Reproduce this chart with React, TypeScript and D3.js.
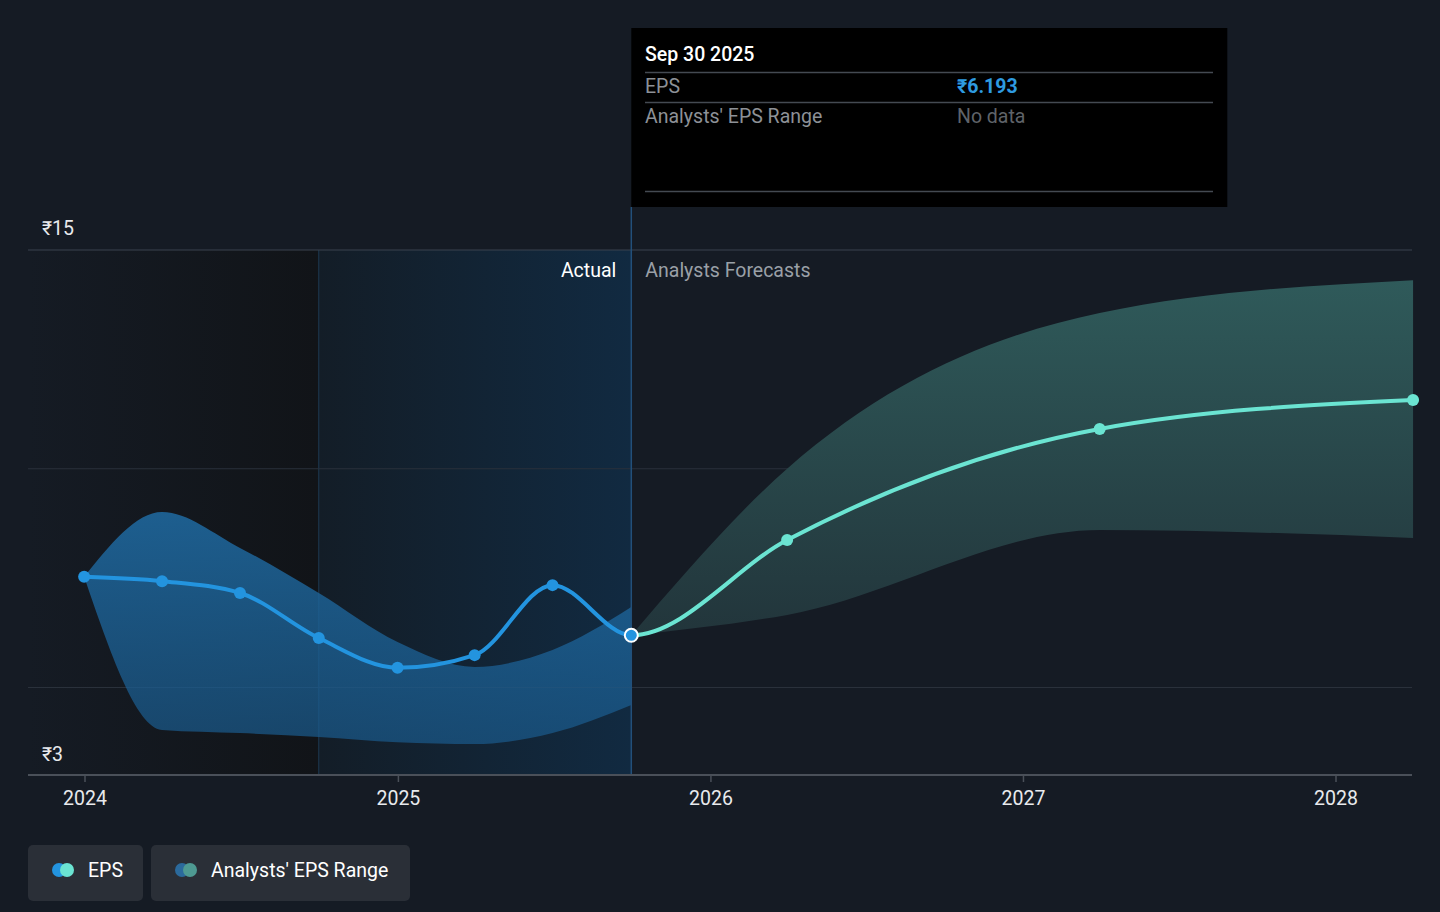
import { useMemo } from "react";
import * as d3 from "d3";

// EPS history (actual) and analysts forecast
const actualDates = ["2023-12-31", "2024-03-31", "2024-06-30", "2024-09-30", "2024-12-31", "2025-03-31", "2025-06-30", "2025-09-30"];
const actualEps = [7.53, 7.43, 7.16, 6.13, 5.45, 5.74, 7.34, 6.193];
const actualRangeLow = [7.53, 4.03, 3.96, 3.87, 3.75, 3.71, 3.96, 4.6];
const actualRangeHigh = [7.53, 9.01, 8.19, 7.16, 6.04, 5.47, 5.86, 6.84];

const forecastDates = ["2025-09-30", "2026-03-31", "2027-03-31", "2028-03-31"];
const forecastEps = [6.193, 8.37, 10.91, 11.57];
const forecastLow = [6.193, 6.66, 8.6, 8.42];
const forecastHigh = [6.193, 10.0, 13.56, 14.31];

const yTicks = [15, 10, 5];
const yLabels = ["₹15", "₹3"];
const xTickYears = [2024, 2025, 2026, 2027, 2028];

const FONT = "Roboto, 'Noto Sans', sans-serif";
const FS = 19.5;
const BG = "#151b24";
const BLUE = "#2394df";
const TEAL = "#6be4d2";

type Pt = { date: Date; v: number; lo: number; hi: number };

export default function App() {
  const parse = d3.timeParse("%Y-%m-%d");

  const x = d3.scaleTime()
    .domain([new Date(2024, 0, 1), new Date(2028, 0, 1)])
    .range([85, 1336]);
  const y = d3.scaleLinear().domain([3, 15]).range([775, 250]);

  const actual: Pt[] = actualDates.map((d, i) => ({ date: parse(d)!, v: actualEps[i], lo: actualRangeLow[i], hi: actualRangeHigh[i] }));
  const forecast: Pt[] = forecastDates.map((d, i) => ({ date: parse(d)!, v: forecastEps[i], lo: forecastLow[i], hi: forecastHigh[i] }));
  // one continuous EPS series, coloured differently either side of "now"
  const allEps = [...actual, ...forecast.slice(1)];

  const paths = useMemo(() => {
    const line = d3.line<Pt>()
      .x(d => x(d.date))
      .y(d => y(d.v))
      .curve(d3.curveMonotoneX);
    const area = d3.area<Pt>()
      .x(d => x(d.date))
      .y0(d => y(d.lo))
      .y1(d => y(d.hi))
      .curve(d3.curveMonotoneX);
    return {
      epsLine: line(allEps) ?? "",
      actualArea: area(actual) ?? "",
      forecastArea: area(forecast) ?? "",
    };
  }, []);

  const nowX = x(parse("2025-09-30")!);
  const pastX = x(parse("2024-09-30")!);
  const left = 28;
  const right = 1412;

  return (
    <div style={{ position: "fixed", inset: 0, background: BG }}>
      <svg width={1440} height={912} style={{ display: "block", fontFamily: FONT }}>
        <defs>
          <linearGradient id="darkZone" x1="0" x2="1" y1="0" y2="0">
            <stop offset="0%" stopColor={BG} />
            <stop offset="100%" stopColor="#111418" />
          </linearGradient>
          <linearGradient id="blueZone" x1="0" x2="1" y1="0" y2="0">
            <stop offset="0%" stopColor="#131d27" />
            <stop offset="100%" stopColor="#112a41" />
          </linearGradient>
          <linearGradient id="blueBand" x1="0" x2="0" y1="0" y2="1">
            <stop offset="0%" stopColor="#1f6ba3" stopOpacity={0.85} />
            <stop offset="100%" stopColor="#1a5a8c" stopOpacity={0.7} />
          </linearGradient>
          <linearGradient id="tealBand" x1="0" x2="0" y1="0" y2="1">
            <stop offset="0%" stopColor="#2f5a5a" />
            <stop offset="100%" stopColor="#22353b" />
          </linearGradient>
          <clipPath id="pastClip">
            <rect x={0} y={0} width={nowX} height={912} />
          </clipPath>
          <clipPath id="futureClip">
            <rect x={nowX} y={0} width={1440 - nowX} height={912} />
          </clipPath>
        </defs>

        {/* past zones */}
        <rect x={left} y={250} width={pastX - left} height={525} fill="url(#darkZone)" />
        <rect x={pastX} y={250} width={nowX - pastX} height={525} fill="url(#blueZone)" />
        <line x1={pastX} x2={pastX} y1={250} y2={775} stroke="#1d3850" strokeWidth={1} />

        {/* gridlines */}
        {yTicks.map((t, i) => (
          <line key={t} x1={left} x2={right} y1={y(t)} y2={y(t)}
            stroke={i === 0 ? "#3b434e" : "#2a313b"} strokeWidth={1} />
        ))}

        {/* range bands */}
        <path d={paths.actualArea} fill="url(#blueBand)" />
        <path d={paths.forecastArea} fill="url(#tealBand)" />

        {/* now divider */}
        <line x1={nowX} x2={nowX} y1={207} y2={775} stroke="#22507a" strokeWidth={1.5} />

        {/* axis */}
        <line x1={left} x2={right} y1={775} y2={775} stroke="#4a5059" strokeWidth={2} />
        {xTickYears.map(yr => {
          const tx = x(new Date(yr, 0, 1));
          return (
            <g key={yr}>
              <line x1={tx} x2={tx} y1={775} y2={782} stroke="#4a5059" strokeWidth={1.5} />
              <text x={tx} y={800} fill="#e8eaed" fontSize={FS} textAnchor="middle" dominantBaseline="middle">{yr}</text>
            </g>
          );
        })}
        <text x={42} y={230} fill="#e8eaed" fontSize={FS} dominantBaseline="middle">{yLabels[0]}</text>
        <text x={42} y={756} fill="#e8eaed" fontSize={FS} dominantBaseline="middle">{yLabels[1]}</text>

        <text x={nowX - 15} y={272} fill="#ffffff" fontSize={FS} textAnchor="end" dominantBaseline="middle">Actual</text>
        <text x={nowX + 14} y={272} fill="#9aa0a7" fontSize={FS} dominantBaseline="middle">Analysts Forecasts</text>

        {/* EPS line */}
        <path d={paths.epsLine} fill="none" stroke={TEAL} strokeWidth={4} clipPath="url(#futureClip)" />
        <path d={paths.epsLine} fill="none" stroke={BLUE} strokeWidth={4} clipPath="url(#pastClip)" />
        {forecast.slice(1).map((d, i) => (
          <circle key={"f" + i} cx={x(d.date)} cy={y(d.v)} r={6} fill={TEAL} />
        ))}
        {actual.slice(0, -1).map((d, i) => (
          <circle key={"a" + i} cx={x(d.date)} cy={y(d.v)} r={6} fill={BLUE} />
        ))}
        <circle cx={nowX} cy={y(actualEps[actualEps.length - 1])} r={6.5} fill={BLUE} stroke="#ffffff" strokeWidth={2} />

        {/* tooltip */}
        <rect x={nowX} y={28} width={596} height={179} fill="#000000" />
        <text x={645} y={56} fill="#ffffff" fontSize={FS} fontWeight={500} dominantBaseline="middle">Sep 30 2025</text>
        <line x1={645} x2={1213} y1={72.5} y2={72.5} stroke="#444a52" strokeWidth={1.5} />
        <text x={645} y={88} fill="#8d9197" fontSize={FS} dominantBaseline="middle">EPS</text>
        <text x={957} y={88} fill="#2e9be0" fontSize={FS} fontWeight={700} dominantBaseline="middle">₹6.193</text>
        <line x1={645} x2={1213} y1={102.5} y2={102.5} stroke="#444a52" strokeWidth={1.5} />
        <text x={645} y={118} fill="#8d9197" fontSize={FS} dominantBaseline="middle">Analysts' EPS Range</text>
        <text x={957} y={118} fill="#5f6369" fontSize={FS} dominantBaseline="middle">No data</text>
        <line x1={645} x2={1213} y1={191.5} y2={191.5} stroke="#444a52" strokeWidth={1.5} />

        {/* legend */}
        <rect x={28} y={845} width={115} height={56} rx={5} fill="#2a2f37" />
        <circle cx={59} cy={870} r={7} fill={BLUE} />
        <circle cx={67} cy={870} r={7} fill={TEAL} />
        <text x={88} y={872} fill="#ffffff" fontSize={FS} dominantBaseline="middle">EPS</text>
        <rect x={151} y={845} width={259} height={56} rx={5} fill="#2a2f37" />
        <circle cx={182} cy={870} r={7} fill="#2b6a9c" />
        <circle cx={190} cy={870} r={7} fill="#4e9a92" />
        <text x={211} y={872} fill="#ffffff" fontSize={FS} dominantBaseline="middle">Analysts' EPS Range</text>
      </svg>
    </div>
  );
}
